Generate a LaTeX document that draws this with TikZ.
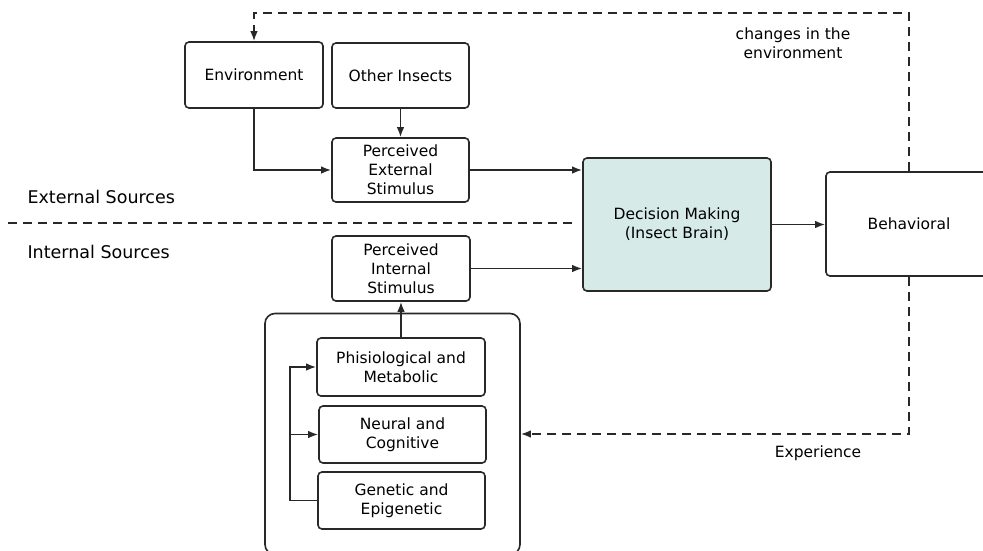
\documentclass[tikz,border=0pt]{standalone}
\usepackage{fontspec}
\setmainfont{DejaVu Sans}
\usetikzlibrary{arrows.meta}
\definecolor{brainfill}{RGB}{214,234,232}
\definecolor{linegray}{RGB}{40,40,40}

\begin{document}
\begin{tikzpicture}[x=1pt, y=-1pt,
		box/.style={draw=linegray, line width=1.6pt, rounded corners=4pt, align=center,
			font=\fontsize{15.5}{19}\selectfont, inner sep=0pt},
		arr/.style={draw=linegray, line width=1.6pt, -{Latex[length=10pt,width=7.5pt]}},
		dasharr/.style={arr, dash pattern=on 9pt off 6pt},
		side/.style={font=\fontsize{17.5}{21}\selectfont, anchor=west}]
		%%%%% START %%%%%
		\useasboundingbox (0,0) rectangle (983,550);
		
		% external sources
		\node[box, minimum width=138pt, minimum height=66pt] (env) at (254,75) {Environment};
		\node[box, minimum width=137pt, minimum height=65pt] (other) at (400.5,75.5) {Other Insects};
		\node[box, minimum width=137pt, minimum height=64pt] (pext) at (400.5,170) {Perceived\\External\\Stimulus};
		
		% internal sources
		\node[box, minimum width=138pt, minimum height=65pt] (pint) at (401,268.5) {Perceived\\Internal\\Stimulus};
		\node[box, rounded corners=10pt, minimum width=255pt, minimum height=241pt] (cont) at (392.5,434) {};
		\node[box, minimum width=168pt, minimum height=58pt] (phis) at (401,367) {Phisiological and\\Metabolic};
		\node[box, minimum width=167pt, minimum height=57pt] (neur) at (402.5,434.5) {Neural and\\Cognitive};
		\node[box, minimum width=167pt, minimum height=57pt] (gene) at (401.5,500.5) {Genetic and\\Epigenetic};
		
		% brain and behaviour
		\node[box, fill=brainfill, minimum width=188pt, minimum height=133pt] (dec) at (677,224.5) {Decision Making\\(Insect Brain)};
		\node[box, minimum width=169pt, minimum height=104pt] (beh) at (910.5,224) {};
		\node[font=\fontsize{15.5}{19}\selectfont] (behtxt) at (909,224) {Behavioral};
		
		% side labels
		\node[side] (exts) at (24,197) {External Sources};
		\node[side] (ints) at (24,252) {Internal Sources};
		\draw[linegray, line width=1.6pt, dash pattern=on 9pt off 6pt] (8,223) -- (575,223);
		
		% solid connectors
		\draw[arr] (env.south) |- (pext.west);
		\draw[arr] (other.south) -- (pext.north);
		\draw[arr] (pext.east) -- (pext.east -| dec.west);
		\draw[arr] (pint.east) -- (pint.east -| dec.west);
		\draw[arr] (dec.east) -- (dec.east -| beh.west);
		\draw[arr] (phis.north) -- (pint.south);
		\draw[arr, -] (gene.west) -- ++(-27,0) coordinate (bus);
		\draw[arr] (bus) |- (phis.west);
		\draw[arr] (bus |- neur.west) -- (neur.west);
		
		% feedback loops
		\draw[dasharr] (beh.north -| behtxt) |- ([yshift=28pt]env.north) -- (env.north);
		\draw[dasharr] (beh.south -| behtxt) |- (cont.east);
		\node[font=\fontsize{15.5}{19}\selectfont, align=center] (chg) at (793,43) {changes in the\\environment};
		\node[font=\fontsize{15.5}{19}\selectfont] (exper) at (818,453) {Experience};
		
		%%%%% END %%%%%
	\end{tikzpicture}
\end{document}
